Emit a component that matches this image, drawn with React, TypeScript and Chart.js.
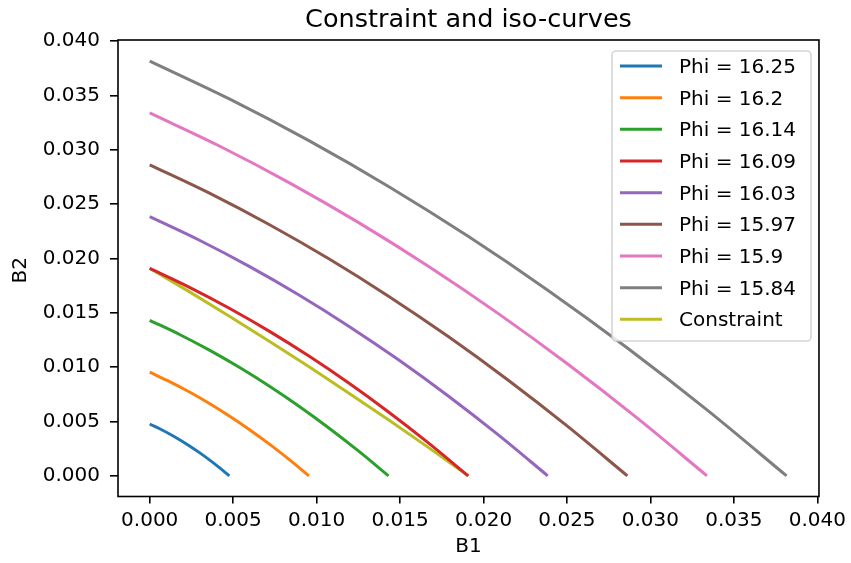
import React, { useEffect, useRef } from "react";
import { Chart, registerables } from "chart.js";

Chart.register(...registerables);

const seriesLabels = [
  "Phi = 16.25",
  "Phi = 16.2",
  "Phi = 16.14",
  "Phi = 16.09",
  "Phi = 16.03",
  "Phi = 15.97",
  "Phi = 15.9",
  "Phi = 15.84",
  "Constraint",
];

const seriesColors = [
  "#1f77b4",
  "#ff7f0e",
  "#2ca02c",
  "#d62728",
  "#9467bd",
  "#8c564b",
  "#e377c2",
  "#7f7f7f",
  "#bcbd22",
];

// B1 (x) and B2 (y) values for each curve
const phi1625X = [0, 0.000596, 0.001193, 0.001789, 0.002385, 0.002981, 0.003578, 0.004174, 0.00477];
const phi1625Y = [0.00477, 0.004336, 0.003855, 0.003328, 0.002755, 0.002136, 0.00147, 0.000758, 0];

const phi162X = [0, 0.001193, 0.002385, 0.003578, 0.00477, 0.005963, 0.007155, 0.008348, 0.00954];
const phi162Y = [0.00954, 0.008671, 0.007709, 0.006656, 0.005509, 0.004271, 0.002939, 0.001516, 0];

const phi1614X = [0, 0.001789, 0.003578, 0.005366, 0.007155, 0.008944, 0.010733, 0.012521, 0.01431];
const phi1614Y = [0.01431, 0.013006, 0.011564, 0.009984, 0.008264, 0.006407, 0.004409, 0.002274, 0];

const phi1609X = [0, 0.002385, 0.00477, 0.007155, 0.00954, 0.011925, 0.01431, 0.016695, 0.01908];
const phi1609Y = [0.01908, 0.017342, 0.015419, 0.013312, 0.011019, 0.008542, 0.005879, 0.003032, 0];

const phi1603X = [0, 0.002981, 0.005963, 0.008944, 0.011925, 0.014906, 0.017888, 0.020869, 0.02385];
const phi1603Y = [0.02385, 0.021677, 0.019273, 0.01664, 0.013773, 0.010678, 0.007348, 0.00379, 0];

const phi1597X = [0, 0.003578, 0.007155, 0.010733, 0.01431, 0.017888, 0.021465, 0.025043, 0.02862];
const phi1597Y = [0.02862, 0.026013, 0.023128, 0.019968, 0.016528, 0.012813, 0.008818, 0.004548, 0];

const phi159X = [0, 0.004174, 0.008348, 0.012521, 0.016695, 0.020869, 0.025043, 0.029216, 0.03339];
const phi159Y = [0.03339, 0.030348, 0.026982, 0.023296, 0.019283, 0.014949, 0.010287, 0.005306, 0];

const phi1584X = [0, 0.00477, 0.00954, 0.01431, 0.01908, 0.02385, 0.02862, 0.03339, 0.03816];
const phi1584Y = [0.03816, 0.034684, 0.030837, 0.026624, 0.022037, 0.017084, 0.011757, 0.006064, 0];

const constraintX = [0, 0.002388, 0.004775, 0.007163, 0.00955, 0.011938, 0.014325, 0.016713, 0.0191];
const constraintY = [0.0191, 0.016923, 0.014688, 0.012377, 0.010028, 0.007602, 0.005138, 0.002598, 0];

const seriesX = [phi1625X, phi162X, phi1614X, phi1609X, phi1603X, phi1597X, phi159X, phi1584X, constraintX];
const seriesY = [phi1625Y, phi162Y, phi1614Y, phi1609Y, phi1603Y, phi1597Y, phi159Y, phi1584Y, constraintY];

const xTickValues = [0, 0.005, 0.01, 0.015, 0.02, 0.025, 0.03, 0.035, 0.04];
const yTickValues = [0, 0.005, 0.01, 0.015, 0.02, 0.025, 0.03, 0.035, 0.04];

const chartTitle = "Constraint and iso-curves";
const xTitle = "B1";
const yTitle = "B2";

const FONT = '"DejaVu Sans", "Liberation Sans", sans-serif';

const decorPlugin = {
  id: "decor",
  afterDraw(chart: any) {
    const { ctx, chartArea } = chart;
    const { left, right, top, bottom } = chartArea;
    ctx.save();
    // spines
    ctx.strokeStyle = "#000";
    ctx.lineWidth = 1.6;
    ctx.strokeRect(left, top, right - left, bottom - top);

    // title
    ctx.fillStyle = "#000";
    ctx.font = `25.5px ${FONT}`;
    ctx.textAlign = "center";
    ctx.textBaseline = "alphabetic";
    ctx.fillText(chartTitle, (left + right) / 2, 27);

    // axis titles
    ctx.font = `20px ${FONT}`;
    ctx.textBaseline = "middle";
    ctx.fillText(xTitle, (left + right) / 2, 547);
    ctx.save();
    ctx.translate(21, (top + bottom) / 2 + 2);
    ctx.rotate(-Math.PI / 2);
    ctx.fillText(yTitle, 0, 0);
    ctx.restore();

    // legend
    const lx = 612;
    const ly = top + 11;
    const lw = 199;
    const lh = 290;
    ctx.beginPath();
    (ctx as any).roundRect(lx, ly, lw, lh, 4);
    ctx.fillStyle = "rgba(255,255,255,0.8)";
    ctx.fill();
    ctx.strokeStyle = "rgba(204,204,204,0.8)";
    ctx.lineWidth = 1.6;
    ctx.stroke();
    ctx.font = `20px ${FONT}`;
    ctx.textAlign = "left";
    ctx.textBaseline = "alphabetic";
    chart.data.datasets.forEach((ds: any, i: number) => {
      const cy = ly + 15 + i * 31.67;
      ctx.strokeStyle = ds.borderColor;
      ctx.lineWidth = 3;
      ctx.lineCap = "butt";
      ctx.beginPath();
      ctx.moveTo(lx + 8, cy);
      ctx.lineTo(lx + 50, cy);
      ctx.stroke();
      ctx.fillStyle = "#000";
      ctx.fillText(ds.label, lx + 67, cy + 7);
    });
    ctx.restore();
  },
};

export default function App() {
  const canvasRef = useRef<HTMLCanvasElement | null>(null);

  useEffect(() => {
    if (!canvasRef.current) return;
    const datasets = seriesLabels.map((label, i) => ({
      label,
      data: seriesX[i].map((x, j) => ({ x, y: seriesY[i][j] })),
      borderColor: seriesColors[i],
      backgroundColor: seriesColors[i],
      borderWidth: 3,
      pointRadius: 0,
      pointHoverRadius: 0,
      showLine: true,
      fill: false,
      cubicInterpolationMode: "monotone" as const,
    }));

    const chart = new Chart(canvasRef.current, {
      type: "scatter",
      data: { datasets },
      options: {
        animation: false,
        responsive: false,
        devicePixelRatio: 1,
        layout: { padding: { left: 0, right: 29, top: 40, bottom: 0 } },
        plugins: {
          legend: { display: false },
          title: { display: false },
          tooltip: { enabled: false },
        },
        scales: {
          x: {
            type: "linear",
            min: -0.0019,
            max: 0.0401,
            border: { display: false },
            grid: {
              drawOnChartArea: false,
              drawTicks: true,
              tickLength: 7,
              tickWidth: 1.6,
              tickColor: "#000",
              color: "#000",
              lineWidth: 1.6,
            },
            afterBuildTicks: (scale: any) => {
              scale.ticks = xTickValues.map((v) => ({ value: v }));
            },
            afterFit: (scale: any) => {
              scale.height = 66.5;
            },
            ticks: {
              padding: 5,
              color: "#000",
              font: { family: FONT, size: 20 },
              maxRotation: 0,
              autoSkip: false,
              callback: (v: any) => Number(v).toFixed(3),
            },
          },
          y: {
            type: "linear",
            min: -0.0019,
            max: 0.0401,
            border: { display: false },
            grid: {
              drawOnChartArea: false,
              drawTicks: true,
              tickLength: 8,
              tickWidth: 1.6,
              tickColor: "#000",
              color: "#000",
              lineWidth: 1.6,
            },
            afterBuildTicks: (scale: any) => {
              scale.ticks = yTickValues.map((v) => ({ value: v }));
            },
            afterFit: (scale: any) => {
              scale.width = 118;
            },
            ticks: {
              padding: 10,
              color: "#000",
              font: { family: FONT, size: 20 },
              autoSkip: false,
              callback: (v: any) => Number(v).toFixed(3),
            },
          },
        },
      },
      plugins: [decorPlugin],
    });
    return () => chart.destroy();
  }, []);

  return (
    <div style={{ position: "fixed", left: 0, top: 0, width: 851, height: 563, background: "#fff" }}>
      <canvas ref={canvasRef} width={851} height={563} style={{ width: 851, height: 563 }} />
    </div>
  );
}
